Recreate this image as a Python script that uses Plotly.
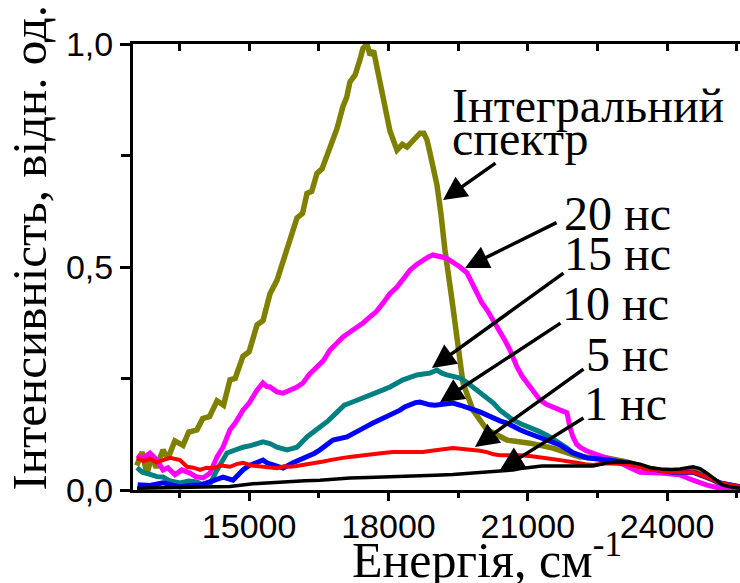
import plotly.graph_objects as go

# ---- data (energy in cm^-1, normalized intensity) ----
INTEGRAL = [(12580, 0.055), (12700, 0.085), (12800, 0.035), (12900, 0.075), (13000, 0.05), (13146, 0.090),
            (13250, 0.07), (13400, 0.11), (13577, 0.10), (13700, 0.13), (13878, 0.135), (14000, 0.16),
            (14150, 0.165), (14309, 0.20), (14450, 0.19), (14588, 0.247), (14700, 0.25), (14868, 0.30),
            (15000, 0.31), (15170, 0.37), (15300, 0.38), (15450, 0.44), (15600, 0.47), (15730, 0.51),
            (15880, 0.56), (16031, 0.61), (16150, 0.62), (16246, 0.665), (16350, 0.67), (16462, 0.71),
            (16570, 0.72), (16677, 0.75), (16800, 0.79), (16892, 0.81), (17021, 0.86), (17100, 0.88),
            (17172, 0.915), (17280, 0.93), (17387, 0.965), (17452, 0.99), (17538, 1.0), (17603, 0.975),
            (17680, 0.985), (17753, 0.945), (17883, 0.875), (18033, 0.805), (18184, 0.762), (18300, 0.775),
            (18399, 0.769), (18528, 0.785), (18679, 0.800), (18760, 0.80), (18830, 0.785), (18894, 0.756),
            (18970, 0.72), (19045, 0.684), (19130, 0.62), (19217, 0.538), (19368, 0.426), (19476, 0.330),
            (19605, 0.240), (19820, 0.179), (20122, 0.135), (20552, 0.112), (21047, 0.105), (21543, 0.094),
            (22124, 0.074), (22705, 0.072), (23136, 0.063), (23566, 0.049), (24126, 0.040), (24557, 0.045),
            (24772, 0.038), (25073, 0.018), (25353, 0.007), (25570, 0.007)]

NS20 = [(12586, 0.078), (12700, 0.07), (12866, 0.083), (12950, 0.072), (13017, 0.067), (13146, 0.045),
        (13250, 0.05), (13404, 0.034), (13550, 0.045), (13727, 0.038), (13850, 0.03), (14007, 0.027),
        (14158, 0.038), (14309, 0.074), (14438, 0.096), (14588, 0.135), (14700, 0.15), (14868, 0.179),
        (15000, 0.195), (15170, 0.224), (15299, 0.240), (15380, 0.232), (15450, 0.231), (15530, 0.225),
        (15600, 0.220), (15730, 0.217), (15880, 0.224), (16020, 0.23), (16160, 0.240), (16300, 0.26),
        (16462, 0.276), (16600, 0.29), (16742, 0.314), (16880, 0.33), (17021, 0.343), (17180, 0.355),
        (17323, 0.365), (17460, 0.375), (17603, 0.388), (17740, 0.40), (17883, 0.419), (18030, 0.44),
        (18184, 0.455), (18320, 0.475), (18464, 0.493), (18600, 0.505), (18744, 0.516), (18850, 0.522),
        (18959, 0.527), (19070, 0.525), (19174, 0.522), (19280, 0.518), (19390, 0.511), (19540, 0.50),
        (19691, 0.487), (19800, 0.465), (19906, 0.442), (20010, 0.42), (20122, 0.404), (20260, 0.38),
        (20402, 0.359), (20510, 0.335), (20617, 0.314), (20700, 0.29), (20768, 0.276), (20880, 0.255),
        (20983, 0.240), (21120, 0.22), (21263, 0.202), (21400, 0.192), (21543, 0.186), (21700, 0.18),
        (21844, 0.173), (21910, 0.14), (21973, 0.119), (22050, 0.103), (22124, 0.096), (22260, 0.088),
        (22404, 0.083), (22705, 0.072), (22985, 0.061), (23200, 0.05), (23416, 0.040), (23846, 0.038),
        (24277, 0.034), (24557, 0.022), (24858, 0.011), (25138, 0.004), (25570, 0.002)]

NS15 = [(12586, 0.05), (12700, 0.04), (12866, 0.035), (13017, 0.03), (13146, 0.029), (13300, 0.02),
        (13512, 0.016), (13700, 0.02), (13878, 0.018), (14000, 0.012), (14158, 0.013), (14309, 0.045),
        (14524, 0.083), (14700, 0.09), (14868, 0.096), (15050, 0.10), (15299, 0.108), (15450, 0.104),
        (15600, 0.096), (15816, 0.090), (16031, 0.096), (16246, 0.119), (16400, 0.13), (16526, 0.141),
        (16700, 0.155), (16892, 0.173), (17050, 0.19), (17172, 0.195), (17300, 0.20), (17452, 0.206),
        (17600, 0.212), (17753, 0.217), (17900, 0.225), (18033, 0.231), (18180, 0.24), (18313, 0.247),
        (18450, 0.252), (18614, 0.258), (18750, 0.26), (18894, 0.262), (19045, 0.269), (19150, 0.262),
        (19261, 0.258), (19400, 0.255), (19540, 0.251), (19680, 0.242), (19820, 0.231), (19970, 0.22),
        (20122, 0.209), (20260, 0.195), (20402, 0.179), (20540, 0.168), (20681, 0.157), (20860, 0.148),
        (21047, 0.141), (21230, 0.132), (21413, 0.123), (21550, 0.114), (21693, 0.105), (21830, 0.095),
        (21973, 0.083), (22275, 0.072), (22705, 0.067), (23136, 0.061), (23566, 0.049), (24126, 0.040),
        (24557, 0.040), (24858, 0.029), (25138, 0.016), (25570, 0.007)]

NS10 = [(12600, 0.012), (12866, 0.01), (13146, 0.016), (13330, 0.01), (13512, 0.007), (13700, 0.01),
        (13943, 0.011), (14200, 0.02), (14438, 0.029), (14653, 0.022), (14868, 0.045), (15000, 0.055),
        (15170, 0.061), (15299, 0.067), (15400, 0.06), (15514, 0.056), (15730, 0.049), (15945, 0.061),
        (16100, 0.068), (16246, 0.074), (16400, 0.082), (16526, 0.090), (16650, 0.10), (16806, 0.112),
        (17107, 0.119), (17250, 0.128), (17387, 0.135), (17520, 0.142), (17667, 0.150), (17820, 0.157),
        (17969, 0.164), (18100, 0.172), (18249, 0.179), (18350, 0.186), (18464, 0.191), (18580, 0.196),
        (18679, 0.197), (18800, 0.193), (18894, 0.191), (19000, 0.19), (19110, 0.191), (19250, 0.194),
        (19390, 0.195), (19550, 0.19), (19691, 0.186), (19830, 0.18), (19971, 0.175), (20110, 0.168),
        (20251, 0.161), (20400, 0.155), (20552, 0.150), (20690, 0.142), (20832, 0.135), (20970, 0.129),
        (21112, 0.123), (21260, 0.117), (21413, 0.112), (21550, 0.106), (21693, 0.101), (21830, 0.092),
        (21973, 0.083), (22275, 0.072), (22705, 0.068), (23136, 0.061), (23566, 0.049), (24126, 0.040),
        (24557, 0.040), (24858, 0.029), (25138, 0.016), (25570, 0.007)]

NS5 = [(12586, 0.072), (12730, 0.065), (12866, 0.070), (13000, 0.062), (13146, 0.067), (13300, 0.072),
       (13512, 0.067), (13663, 0.052), (13800, 0.05), (13943, 0.045), (14080, 0.05), (14222, 0.049),
       (14400, 0.055), (14588, 0.052), (14730, 0.058), (14868, 0.061), (15050, 0.055), (15299, 0.052),
       (15450, 0.05), (15600, 0.049), (15750, 0.053), (15880, 0.052), (16020, 0.054), (16160, 0.056),
       (16300, 0.058), (16462, 0.061), (16600, 0.064), (16742, 0.067), (16880, 0.07), (17021, 0.072),
       (17250, 0.075), (17452, 0.078), (17660, 0.08), (17883, 0.083), (18100, 0.085), (18313, 0.085),
       (18530, 0.087), (18744, 0.085), (18930, 0.088), (19110, 0.090), (19250, 0.092), (19390, 0.094),
       (19600, 0.092), (19820, 0.090), (19970, 0.088), (20122, 0.085), (20260, 0.08), (20402, 0.078),
       (20620, 0.079), (20832, 0.078), (21050, 0.076), (21263, 0.074), (21480, 0.07), (21693, 0.067),
       (21880, 0.063), (22060, 0.061), (22230, 0.058), (22404, 0.056), (22705, 0.06), (23136, 0.058),
       (23566, 0.047), (24126, 0.040), (24557, 0.040), (24858, 0.029), (25138, 0.016), (25570, 0.007)]

NS1 = [(12586, 0.004), (13000, 0.005), (13512, 0.006), (14000, 0.007), (14588, 0.008), (15084, 0.014),
       (15500, 0.017), (15880, 0.020), (16200, 0.021), (16526, 0.022), (16850, 0.025), (17172, 0.027),
       (17560, 0.028), (17969, 0.029), (18300, 0.031), (18679, 0.032), (19000, 0.033), (19390, 0.035),
       (19750, 0.038), (20122, 0.040), (20400, 0.043), (20681, 0.045), (20900, 0.049), (21112, 0.052),
       (21300, 0.054), (21543, 0.054), (21973, 0.054), (22404, 0.054), (22705, 0.061), (22985, 0.063),
       (23200, 0.062), (23416, 0.058), (23650, 0.05), (23846, 0.047), (24100, 0.046), (24277, 0.047),
       (24557, 0.052), (24708, 0.048), (24850, 0.038), (24987, 0.027), (25100, 0.017), (25202, 0.011),
       (25400, 0.006), (25570, 0.004)]

X_TICKS = [15000, 18000, 21000, 24000]
X_TICK_TEXT = ["15000", "18000", "21000", "24000"]
Y_TICKS = [0.0, 0.5, 1.0]
Y_TICK_TEXT = ["0,0", "0,5", "1,0"]

SERIES = [
    (INTEGRAL, "Інтегральний спектр", "#808000", 5.5),
    (NS20, "20 нс", "#FF00FF", 5.0),
    (NS15, "15 нс", "#008080", 5.0),
    (NS10, "10 нс", "#0000FF", 5.0),
    (NS5, "5 нс", "#FF0000", 4.0),
    (NS1, "1 нс", "#000000", 3.5),
]

SANS = "Liberation Sans, Arial, sans-serif"
SERIF = "Liberation Serif, Times New Roman, serif"
X_RANGE = [12500, 25570]

fig = go.Figure()
for i, (pts, name, color, w) in enumerate(SERIES):
    xs = [p[0] for p in pts]
    ys = [p[1] for p in pts]
    fig.add_trace(go.Scatter(x=xs, y=ys, mode="lines", name=name,
                             line=dict(color=color, width=w),
                             xaxis="x2" if i == len(SERIES) - 1 else "x"))

fig.update_layout(
    width=740, height=583,
    margin=dict(l=133, r=0, t=44, b=93),
    plot_bgcolor="white", paper_bgcolor="white",
    showlegend=False,
    xaxis=dict(range=X_RANGE, tickvals=X_TICKS, ticktext=X_TICK_TEXT, ticks="outside",
               ticklen=8, tickwidth=2.5, ticklabelstandoff=-4,
               tickcolor="black", showline=True, linewidth=3, linecolor="black",
               showgrid=False, zeroline=False,
               tickfont=dict(family=SANS, size=34, color="black"),
               minor=dict(tickvals=[13500, 16500, 19500, 22500, 25500], ticks="outside",
                          ticklen=5, tickwidth=2.5, tickcolor="black")),
    xaxis2=dict(range=X_RANGE, overlaying="x", side="top", anchor="y",
                tickvals=[13500, 15000, 16500, 18000, 19500, 21000, 22500, 24000, 25500],
                ticks="inside", ticklen=7, tickwidth=2.5, tickcolor="black",
                showticklabels=False, showline=True, linewidth=3, linecolor="black",
                showgrid=False, zeroline=False),
    yaxis=dict(range=[0, 1], tickvals=Y_TICKS, ticktext=Y_TICK_TEXT, ticks="outside",
               ticklen=10, tickwidth=2.5, tickcolor="black", showline=True, linewidth=3,
               linecolor="black", showgrid=False, zeroline=False,
               tickfont=dict(family=SANS, size=34, color="black"),
               minor=dict(tickvals=[0.25, 0.75], ticks="outside", ticklen=9, tickwidth=2.5,
                          tickcolor="black")),
)

# axis titles
fig.add_annotation(text="Енергія, см<sup>-1</sup>", xref="paper", yref="paper",
                   x=0.3575, y=-0.150, xanchor="left", yanchor="middle", showarrow=False,
                   font=dict(family=SERIF, size=50, color="black"))
fig.add_annotation(text="Інтенсивність, відн. од.", xref="paper", yref="paper",
                   x=-0.172, y=0.5426, xanchor="center", yanchor="middle", showarrow=False,
                   textangle=-90, font=dict(family=SERIF, size=49, color="black"))

# labels
LABELS = [
    ("Інтегральний", 0.5222, 0.862, "left"),
    ("спектр", 0.5222, 0.787, "left"),
    ("20 нс", 0.8896, 0.619, "right"),
    ("15 нс", 0.8896, 0.531, "right"),
    ("10 нс", 0.886, 0.418, "right"),
    ("5 нс", 0.886, 0.303, "right"),
    ("1 нс", 0.883, 0.193, "right"),
]
for txt, x, y, anc in LABELS:
    fig.add_annotation(text=txt, xref="paper", yref="paper", x=x, y=y, xanchor=anc,
                       yanchor="middle", showarrow=False,
                       font=dict(family=SERIF, size=48, color="black"))

# arrows: head (data coords) and tail offset (pixels)
ARROWS = [
    (19175, 0.650, 54, -38),
    (19649, 0.498, 93, -46),
    (18938, 0.2735, 133, -96),
    (19110, 0.197, 122, -80),
    (19864, 0.0964, 110, -79),
    (20402, 0.0448, 85, -53),
]
for hx, hy, ax, ay in ARROWS:
    fig.add_annotation(x=hx, y=hy, xref="x", yref="y", ax=ax, ay=ay, text="",
                       showarrow=True, arrowhead=2, arrowsize=1.35, arrowwidth=3.5,
                       arrowcolor="black", standoff=0)

fig.write_html("out.html")
